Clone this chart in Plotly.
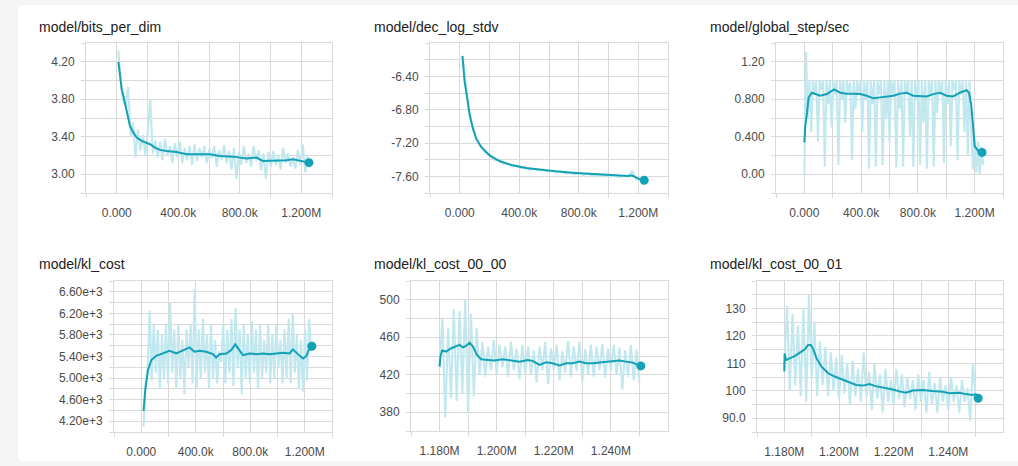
import plotly.graph_objects as go

# ---------------- data ----------------
# Panel 1: model/bits_per_dim
bits_smooth_x = [10800, 21600, 32000, 48000, 65000, 86000, 108000, 130000, 162000, 195000, 216000,
                 249000, 281000, 324000, 389000, 454000, 541000, 605000, 670000, 757000, 843000,
                 908000, 951000, 1038000, 1103000, 1146000, 1189000, 1222000, 1250000]
bits_smooth_y = [4.198, 4.013, 3.907, 3.80, 3.658, 3.516, 3.444, 3.391, 3.356, 3.331, 3.32,
                 3.284, 3.26, 3.249, 3.238, 3.213, 3.213, 3.213, 3.196, 3.188, 3.167,
                 3.178, 3.142, 3.142, 3.149, 3.16, 3.142, 3.132, 3.124]
bits_raw_start, bits_raw_step = 10000, 16000
bits_raw_y = [4.32, 4.00, 3.78, 3.72, 3.93, 3.40, 3.55, 3.18, 3.48, 3.25, 3.42, 3.20, 3.45, 3.80,
              3.22, 3.36, 3.18, 3.35, 3.15, 3.38, 3.20, 3.30, 3.12, 3.33, 3.18, 3.35, 3.12, 3.28,
              3.15, 3.30, 3.10, 3.32, 3.14, 3.28, 3.18, 3.30, 3.12, 3.27, 3.17, 3.30, 3.08, 3.26,
              3.15, 3.31, 3.12, 3.25, 3.05, 3.28, 2.95, 3.24, 3.10, 3.30, 3.12, 3.22, 3.08, 3.30,
              3.14, 3.26, 3.04, 3.22, 2.95, 3.24, 3.08, 3.25, 3.10, 3.20, 3.05, 3.28, 3.12, 3.22,
              3.08, 3.18, 3.06, 3.26, 3.10, 3.32, 3.02, 3.20]

# Panel 2: model/dec_log_stdv
dec_smooth_x = [18000, 33000, 51000, 67000, 89000, 111000, 144000, 200000, 267000, 356000, 444000,
                533000, 644000, 756000, 889000, 1022000, 1133000, 1156000, 1200000, 1240000]
dec_smooth_y = [-6.156, -6.468, -6.668, -6.868, -7.028, -7.148, -7.248, -7.348, -7.416, -7.468, -7.50,
                -7.52, -7.54, -7.556, -7.572, -7.588, -7.596, -7.588, -7.628, -7.648]
dec_raw_start, dec_raw_step = 20000, 30000
dec_raw_y = [-6.15, -6.67, -6.95, -7.15, -7.23, -7.31, -7.34, -7.40, -7.41, -7.45, -7.45, -7.48,
             -7.47, -7.50, -7.49, -7.52, -7.51, -7.53, -7.52, -7.545, -7.53, -7.555, -7.54, -7.565,
             -7.555, -7.575, -7.56, -7.585, -7.57, -7.59, -7.575, -7.60, -7.585, -7.605, -7.59,
             -7.61, -7.595, -7.60, -7.54, -7.64, -7.63, -7.655]

# Panel 3: model/global_step/sec
step_smooth_x = [0, 6000, 19000, 30000, 53000, 112000, 159000, 209000, 253000, 300000, 347000,
                 393000, 440000, 487000, 534000, 581000, 628000, 674000, 721000, 768000, 815000,
                 862000, 909000, 955000, 1002000, 1049000, 1096000, 1143000, 1160000, 1177000,
                 1189000, 1200000, 1224000, 1240000, 1252000]
step_smooth_y = [0.34, 0.515, 0.66, 0.818, 0.87, 0.837, 0.855, 0.905, 0.87, 0.86, 0.86,
                 0.855, 0.837, 0.81, 0.82, 0.83, 0.837, 0.86, 0.87, 0.837, 0.837,
                 0.83, 0.855, 0.87, 0.837, 0.83, 0.87, 0.897, 0.87, 0.73,
                 0.515, 0.30, 0.25, 0.24, 0.233]
step_raw_start, step_raw_step = 0, 12000
step_raw_y = [0.00, 1.30, 0.60, 1.00, 0.45, 1.00, 0.85, 1.00, 0.35, 1.00, 0.90, 1.00, 0.08, 1.00,
              0.75, 1.00, 0.50, 1.00, 0.85, 1.00, 0.10, 1.00, 0.80, 1.00, 0.55, 1.00, 0.88, 0.98,
              0.15, 1.00, 0.70, 1.00, 0.85, 1.00, 0.45, 1.00, 0.80, 1.00, 0.06, 1.00, 0.75, 1.00,
              0.08, 1.00, 0.85, 1.00, 0.10, 1.00, 0.60, 1.00, 0.35, 1.00, 0.85, 1.00, 0.07, 1.00,
              0.70, 1.00, 0.08, 1.00, 0.85, 1.00, 0.40, 1.00, 0.08, 1.00, 0.80, 1.00, 0.10, 1.00,
              0.55, 1.00, 0.06, 1.00, 0.85, 1.00, 0.08, 1.00, 0.65, 1.00, 0.85, 1.00, 0.12, 1.00,
              0.75, 1.00, 0.30, 1.00, 0.90, 1.00, 0.15, 1.00, 0.85, 1.00, 0.45, 1.00, 0.20, 1.00,
              0.50, 0.05, 0.40, 0.02, 0.35, 0.00, 0.30, 0.10]

# Panel 4: model/kl_cost
kl_smooth_x = [17000, 29000, 49000, 73000, 110000, 159000, 208000, 257000, 306000, 355000, 391000,
               428000, 477000, 526000, 550000, 575000, 624000, 661000, 690000, 710000, 746000,
               795000, 844000, 893000, 942000, 991000, 1040000, 1089000, 1113000, 1150000,
               1187000, 1211000, 1235000, 1252000]
kl_smooth_y = [4391, 4767, 5143, 5331, 5413, 5456, 5507, 5456, 5519, 5569, 5488,
               5507, 5488, 5444, 5381, 5444, 5456, 5519, 5626, 5550, 5425,
               5456, 5444, 5456, 5444, 5456, 5469, 5456, 5532, 5444,
               5362, 5406, 5550, 5590]
kl_raw_start, kl_raw_step = 17000, 15000
kl_raw_y = [4100, 4900, 5200, 6250, 4950, 6000, 5100, 5900, 4800, 5800, 5000, 6000, 4900, 6400,
            5100, 5900, 4800, 6000, 5000, 5700, 4700, 5900, 5200, 6000, 4900, 6650, 4800, 5900,
            5000, 6100, 5100, 5800, 4800, 6000, 5000, 5700, 4900, 5500, 5300, 6000, 4900, 5900,
            5100, 6100, 4850, 6300, 5200, 5900, 4700, 6000, 5000, 5800, 4900, 6050, 5100, 5900,
            4800, 6000, 5000, 5700, 5100, 6000, 4900, 5800, 5000, 6000, 5200, 5700, 4900, 5900,
            5000, 6100, 4900, 6200, 5100, 5800, 4800, 5700, 4750, 5900, 4950, 6100, 5500]

# Panel 5: model/kl_cost_00_00
k00_smooth_x = [1180000, 1180300, 1180900, 1182300, 1184100, 1185800, 1187000, 1188200, 1189300,
                1190500, 1191700, 1193100, 1194600, 1196900, 1199200, 1202100, 1205100, 1208000,
                1210900, 1212600, 1215000, 1217300, 1219600, 1222000, 1224300, 1226600, 1229000,
                1231300, 1233600, 1235900, 1238300, 1240600, 1242900, 1245300, 1247600, 1249300,
                1250500]
k00_smooth_y = [428.7, 439.4, 445.8, 444.7, 448.3, 450.0, 451.8, 449.3, 450.8,
                454.3, 450.0, 441.2, 436.5, 435.8, 435.1, 436.5, 435.1, 434.0,
                435.8, 434.8, 430.5, 433.3, 432.3, 429.8, 432.3, 432.3, 434.0,
                432.3, 432.3, 433.0, 434.0, 434.0, 435.1, 434.0, 433.0, 430.5,
                429.4]
k00_raw_start, k00_raw_step = 1180000, 1000
k00_raw_y = [428, 480, 375, 470, 395, 490, 392, 488, 400, 500, 380, 485, 397, 470, 420, 455, 418,
             450, 425, 457, 420, 452, 428, 450, 418, 455, 425, 448, 415, 452, 422, 450, 420, 446,
             412, 450, 425, 455, 410, 448, 425, 452, 414, 445, 422, 456, 418, 450, 424, 455, 413,
             447, 420, 452, 418, 450, 425, 453, 417, 448, 424, 452, 420, 449, 404, 446, 418, 452,
             414, 447, 412]

# Panel 6: model/kl_cost_00_01
k01_smooth_x = [1180000, 1180100, 1180600, 1182100, 1183900, 1185700, 1187500, 1188700, 1189700,
                1190600, 1191800, 1193600, 1196000, 1198400, 1201500, 1203900, 1206300, 1208800,
                1211200, 1213000, 1216000, 1219700, 1222100, 1224500, 1227000, 1230600, 1234200,
                1237900, 1240300, 1244000, 1246400, 1248800, 1250000, 1250900]
k01_smooth_y = [107.0, 113.6, 111.2, 111.8, 112.7, 113.9, 115.1, 116.7, 116.7,
                115.1, 111.8, 108.8, 106.4, 105.2, 103.9, 103.0, 102.1, 101.9,
                102.5, 101.8, 101.3, 100.5, 99.8, 99.3, 100.1, 100.3, 99.9,
                99.7, 99.1, 99.3, 98.8, 98.5, 98.8, 97.3]
k01_raw_start, k01_raw_step = 1180000, 1000
k01_raw_y = [108, 131, 100, 128, 102, 124, 98, 130, 96, 135, 104, 125, 98, 118, 102, 116, 98, 114,
             100, 112, 97, 113, 99, 110, 95, 111, 98, 108, 96, 114, 98, 107, 93, 110, 97, 106, 92,
             108, 96, 104, 95, 108, 97, 106, 94, 105, 97, 104, 93, 106, 96, 104, 92, 107, 95, 103,
             92, 105, 96, 102, 93, 105, 96, 102, 92, 104, 96, 101, 89, 110, 97]

# ---------------- axis ticks ----------------
steps_major = [0, 400000, 800000, 1200000]
steps_major_text = ["0.000", "400.0k", "800.0k", "1.200M"]
steps_minor = [-200000, 200000, 600000, 1000000, 1400000]
steps_range = [-200000, 1400000]

late_major = [1180000, 1200000, 1220000, 1240000]
late_major_text = ["1.180M", "1.200M", "1.220M", "1.240M"]
late_minor = [1170000, 1190000, 1210000, 1230000, 1250000]
late_range = [1170000, 1260000]

bits_yvals = [2.8, 3.0, 3.2, 3.4, 3.6, 3.8, 4.0, 4.2, 4.4]
bits_ytext = ["", "3.00", "", "3.40", "", "3.80", "", "4.20", ""]
dec_yvals = [-7.8, -7.6, -7.4, -7.2, -7.0, -6.8, -6.6, -6.4, -6.2, -6.0]
dec_ytext = ["", "-7.60", "", "-7.20", "", "-6.80", "", "-6.40", "", ""]
step_yvals = [-0.2, 0.0, 0.2, 0.4, 0.6, 0.8, 1.0, 1.2, 1.4]
step_ytext = ["", "0.00", "", "0.400", "", "0.800", "", "1.20", ""]
kl_yvals = [4000, 4200, 4400, 4600, 4800, 5000, 5200, 5400, 5600, 5800, 6000, 6200, 6400, 6600, 6800]
kl_ytext = ["", "4.20e+3", "", "4.60e+3", "", "5.00e+3", "", "5.40e+3", "", "5.80e+3", "",
            "6.20e+3", "", "6.60e+3", ""]
k00_yvals = [360, 380, 400, 420, 440, 460, 480, 500, 520]
k00_ytext = ["", "380", "", "420", "", "460", "", "500", ""]
k01_yvals = [85, 90, 95, 100, 105, 110, 115, 120, 125, 130, 135, 140]
k01_ytext = ["", "90.0", "", "100", "", "110", "", "120", "", "130", "", ""]

# ---------------- styling ----------------
W, H = 1018, 466
LINE = "#12a1b5"
RAW = "#c2e8ef"
GRID = "#d9d9d9"
TICK = "#4a4a4a"
FONT = "Liberation Sans, Arial, sans-serif"

panels = [
    dict(title="model/bits_per_dim", tx=37, ty=27, box=(86, 332, 43, 193),
         rx0=bits_raw_start, rdx=bits_raw_step, ry=bits_raw_y, sx=bits_smooth_x, sy=bits_smooth_y,
         xmaj=steps_major, xtxt=steps_major_text, xmin=steps_minor, xr=steps_range,
         yv=bits_yvals, yt=bits_ytext),
    dict(title="model/dec_log_stdv", tx=372, ty=27, box=(430, 668, 43, 193),
         rx0=dec_raw_start, rdx=dec_raw_step, ry=dec_raw_y, sx=dec_smooth_x, sy=dec_smooth_y,
         xmaj=steps_major, xtxt=steps_major_text, xmin=steps_minor, xr=steps_range,
         yv=dec_yvals, yt=dec_ytext),
    dict(title="model/global_step/sec", tx=708, ty=27, box=(776, 1003, 43, 193),
         rx0=step_raw_start, rdx=step_raw_step, ry=step_raw_y, sx=step_smooth_x, sy=step_smooth_y,
         xmaj=steps_major, xtxt=steps_major_text, xmin=steps_minor, xr=steps_range,
         yv=step_yvals, yt=step_ytext),
    dict(title="model/kl_cost", tx=37, ty=264, box=(114, 332, 281, 432),
         rx0=kl_raw_start, rdx=kl_raw_step, ry=kl_raw_y, sx=kl_smooth_x, sy=kl_smooth_y,
         xmaj=steps_major, xtxt=steps_major_text, xmin=steps_minor, xr=steps_range,
         yv=kl_yvals, yt=kl_ytext),
    dict(title="model/kl_cost_00_00", tx=372, ty=264, box=(411, 668, 281, 431),
         rx0=k00_raw_start, rdx=k00_raw_step, ry=k00_raw_y, sx=k00_smooth_x, sy=k00_smooth_y,
         xmaj=late_major, xtxt=late_major_text, xmin=late_minor, xr=late_range,
         yv=k00_yvals, yt=k00_ytext),
    dict(title="model/kl_cost_00_01", tx=708, ty=264, box=(757, 1003, 281, 432),
         rx0=k01_raw_start, rdx=k01_raw_step, ry=k01_raw_y, sx=k01_smooth_x, sy=k01_smooth_y,
         xmaj=late_major, xtxt=late_major_text, xmin=late_minor, xr=late_range,
         yv=k01_yvals, yt=k01_ytext),
]

fig = go.Figure()
layout = dict(
    width=W, height=H, margin=dict(l=0, r=0, t=0, b=0),
    paper_bgcolor="#f5f5f5", plot_bgcolor="rgba(0,0,0,0)",
    showlegend=False, hovermode=False, template="none",
    font=dict(family=FONT, size=12, color=TICK),
    annotations=[], shapes=[],
)

# white card with rounded left corners
x0 = 18 / W
yt_ = 1 - 5 / H
yb_ = 1 - 461 / H
rx, ry = 6 / W, 6 / H
card = (f"M {x0+rx},{yt_} L 1,{yt_} L 1,{yb_} L {x0+rx},{yb_} "
        f"Q {x0},{yb_} {x0},{yb_+ry} L {x0},{yt_-ry} Q {x0},{yt_} {x0+rx},{yt_} Z")
layout["shapes"].append(dict(type="path", path=card, xref="paper", yref="paper",
                             fillcolor="white", line=dict(width=0), layer="below"))

for i, p in enumerate(panels, start=1):
    xa = "x" if i == 1 else f"x{i}"
    ya = "y" if i == 1 else f"y{i}"
    l, r, t, b = p["box"]
    raw_x = [p["rx0"] + k * p["rdx"] for k in range(len(p["ry"]))]
    fig.add_trace(go.Scatter(x=raw_x, y=p["ry"], mode="lines",
                             line=dict(color=RAW, width=2.1), xaxis=xa, yaxis=ya))
    fig.add_trace(go.Scatter(x=p["sx"], y=p["sy"], mode="lines",
                             line=dict(color=LINE, width=2), xaxis=xa, yaxis=ya))
    fig.add_trace(go.Scatter(x=[p["sx"][-1]], y=[p["sy"][-1]], mode="markers",
                             marker=dict(color=LINE, size=9), xaxis=xa, yaxis=ya))
    xkey = "xaxis" if i == 1 else f"xaxis{i}"
    ykey = "yaxis" if i == 1 else f"yaxis{i}"
    layout[xkey] = dict(
        domain=[l / W, r / W], anchor=ya, range=p["xr"], fixedrange=True,
        tickmode="array", tickvals=p["xmaj"], ticktext=p["xtxt"], ticks="",
        showgrid=True, gridcolor=GRID, gridwidth=1, zeroline=False,
        showline=True, linecolor=GRID, linewidth=1, mirror=True,
        ticklabelstandoff=9, tickfont=dict(size=12, color=TICK, family=FONT),
        minor=dict(tickmode="array", tickvals=p["xmin"], ticks="outside", ticklen=4,
                   tickcolor=GRID, showgrid=True, gridcolor=GRID, gridwidth=1),
    )
    layout[ykey] = dict(
        domain=[1 - b / H, 1 - t / H], anchor=xa, range=[p["yv"][0], p["yv"][-1]], fixedrange=True,
        tickmode="array", tickvals=p["yv"], ticktext=p["yt"], ticks="outside", ticklen=4,
        tickcolor=GRID, showgrid=True, gridcolor=GRID, gridwidth=1, zeroline=False,
        showline=True, linecolor=GRID, linewidth=1, mirror=True,
        ticklabelstandoff=4, tickfont=dict(size=12, color=TICK, family=FONT),
    )
    layout["annotations"].append(dict(
        text=p["title"], x=p["tx"] / W, y=1 - p["ty"] / H, xref="paper", yref="paper",
        xanchor="left", yanchor="middle", showarrow=False,
        font=dict(family=FONT, size=14, color="#212121")))

fig.update_layout(**layout)
fig.write_html("out.html", config={"displayModeBar": False},
               post_script="document.body.style.margin='0';document.body.style.overflow='hidden';")
